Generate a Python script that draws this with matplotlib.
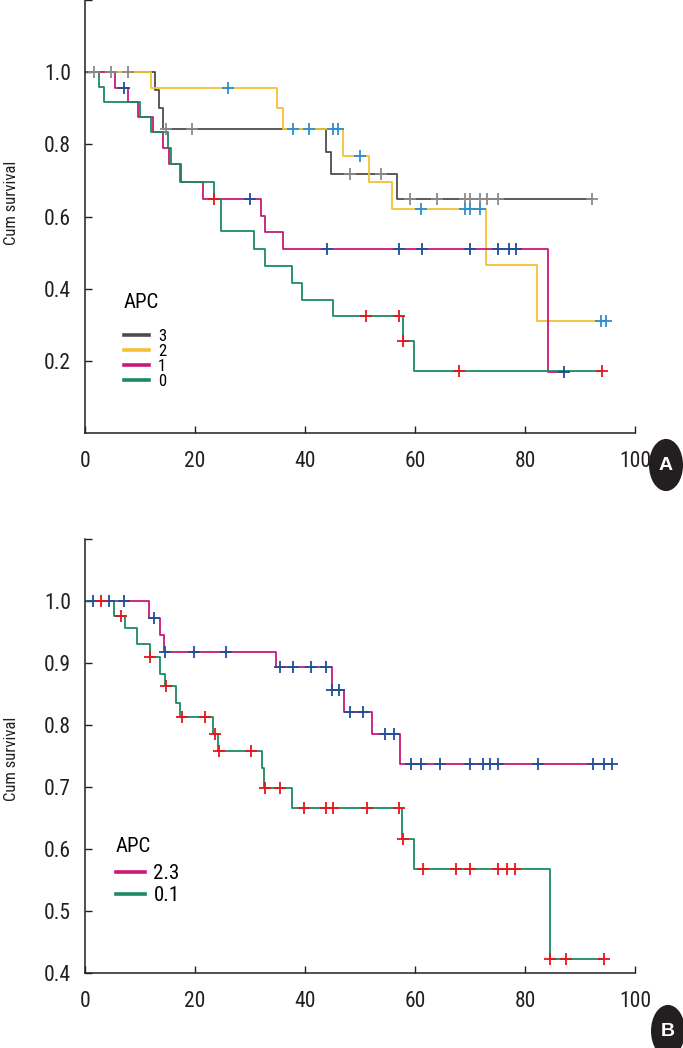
import numpy as np
import matplotlib
matplotlib.use("Agg")
import matplotlib.pyplot as plt
from matplotlib.patches import Circle
from matplotlib import font_manager

# pick a condensed sans face if one is installed
_names = {f.name for f in font_manager.fontManager.ttflist}
_cond = [f for f in font_manager.fontManager.ttflist
         if ('Narrow' in f.fname or 'Condensed' in f.fname or 'Cond' in f.name
             or str(f.stretch) in ('condensed', 'semi-condensed', '75', '87'))]
FAMILY = ['Liberation Sans', 'DejaVu Sans']
STRETCH = 'normal'
for pref in ['Liberation Sans Narrow', 'Roboto Condensed', 'Open Sans Condensed']:
    if pref in _names:
        FAMILY = [pref, 'Liberation Sans', 'DejaVu Sans']
        break
else:
    for f in _cond:
        if 'Liberation' in f.fname or 'DejaVuSans' in f.fname or 'Roboto' in f.fname:
            FAMILY = [f.name, 'DejaVu Sans']
            STRETCH = 'condensed'
            break
plt.rcParams['font.family'] = FAMILY
plt.rcParams['font.stretch'] = STRETCH

# ---------------- Panel A data (APC 3, 2, 1, 0) ----------------
a3_times = [0, 12.7, 13.5, 14.2, 43.8, 44.8, 56.8]
a3_surv = [1.0, 0.95, 0.90, 0.842, 0.78, 0.718, 0.648]
a3_end = 92.2
a3_cens = [1.7, 4.7, 7.8, 14.7, 19.5, 48.1, 53.9, 59.0, 64.0, 69.1, 70.0, 71.8, 73.0, 75.0, 92.2]

a2_times = [0, 12.0, 34.9, 36.0, 46.9, 51.6, 55.8, 72.9, 82.1]
a2_surv = [1.0, 0.955, 0.90, 0.842, 0.768, 0.697, 0.62, 0.465, 0.312]
a2_end = 94.8
a2_cens = [26.0, 37.9, 40.8, 45.0, 46.0, 50.0, 61.1, 69.1, 70.0, 71.8, 93.9, 94.8]

a1_times = [0, 5.45, 7.8, 9.7, 12.3, 14.2, 15.2, 17.4, 21.5, 32.0, 32.7, 36.0, 84.1]
a1_surv = [1.0, 0.955, 0.918, 0.877, 0.835, 0.79, 0.745, 0.697, 0.648, 0.603, 0.558, 0.51, 0.171]
a1_end = 87.0
a1_cens = [7.0, 30.0, 44.0, 57.0, 61.3, 70.0, 75.0, 77.0, 78.4, 87.0]

a0_times = [0, 2.6, 3.5, 10.0, 12.0, 15.0, 15.6, 17.3, 23.5, 24.8, 30.7, 32.7, 37.6, 39.5, 45.0, 57.9, 59.8]
a0_surv = [1.0, 0.958, 0.918, 0.875, 0.835, 0.79, 0.745, 0.697, 0.648, 0.56, 0.51, 0.463, 0.415, 0.37, 0.326, 0.257, 0.173]
a0_end = 94.0
a0_cens = [23.5, 51.0, 57.0, 57.9, 68.0, 94.0]

# ---------------- Panel B data (APC 2.3, 0.1) ----------------
b23_times = [0, 11.7, 13.6, 14.4, 34.7, 44.85, 47.1, 52.2, 57.2]
b23_surv = [1.0, 0.973, 0.945, 0.918, 0.894, 0.857, 0.82, 0.785, 0.737]
b23_end = 95.9
b23_cens = [1.4, 4.4, 7.0, 12.5, 14.5, 19.8, 25.6, 35.5, 37.8, 41.1, 43.9, 44.9, 46.1,
            48.2, 50.5, 54.5, 56.2, 59.3, 61.1, 64.5, 70.0, 72.3, 73.6, 75.1, 82.4,
            92.4, 94.4, 95.9]

b01_times = [0, 5.3, 7.3, 9.4, 11.8, 13.6, 14.5, 16.5, 17.3, 23.3, 24.2, 32.2, 32.5, 37.7, 57.6, 59.8, 84.5]
b01_surv = [1.0, 0.976, 0.956, 0.931, 0.909, 0.882, 0.863, 0.836, 0.812, 0.785, 0.758, 0.73, 0.698, 0.666, 0.615, 0.567, 0.4216]
b01_end = 94.4
b01_cens = [2.9, 6.5, 11.8, 14.7, 17.6, 21.8, 23.6, 24.4, 30.2, 32.7, 35.5, 39.9, 43.8,
            45.0, 51.2, 57.1, 57.8, 61.5, 67.5, 70.0, 75.0, 76.8, 78.2, 84.5, 87.4, 94.4]

GRAY = '#4d4d4d'
YELLOW = '#f6c033'
MAGENTA = '#c9187a'
GREEN = '#1b8a5e'
C_GRAY = '#8a8a8a'
C_LBLUE = '#2a8fd0'
C_NAVY = '#1f4f9a'
C_RED = '#e8141e'
INK = '#231f20'

W, H = 683, 1048
fig = plt.figure(figsize=(W / 100, H / 100), dpi=100)


def px_axes(left, top, right, bottom):
    return fig.add_axes([left / W, 1 - bottom / H, (right - left) / W, (bottom - top) / H])


axA = px_axes(85, 0, 635, 433.3)
axB = px_axes(85, 539, 635, 972.7)


def km(ax, times, surv, end, cens, color, ccolor, label):
    t = list(times) + [end]
    s = list(surv) + [surv[-1]]
    ax.step(t, s, where='post', color=color, lw=1.3, label=label, zorder=2)
    idx = np.searchsorted(np.asarray(times), np.asarray(cens), side='right') - 1
    cy = np.asarray(surv)[idx]
    ax.plot(cens, cy, linestyle='none', marker='+', color=ccolor, ms=8, mew=1.3, zorder=3)


km(axA, a3_times, a3_surv, a3_end, a3_cens, GRAY, C_GRAY, '3')
km(axA, a2_times, a2_surv, a2_end, a2_cens, YELLOW, C_LBLUE, '2')
km(axA, a1_times, a1_surv, a1_end, a1_cens, MAGENTA, C_NAVY, '1')
km(axA, a0_times, a0_surv, a0_end, a0_cens, GREEN, C_RED, '0')

km(axB, b23_times, b23_surv, b23_end, b23_cens, MAGENTA, C_NAVY, '2.3')
km(axB, b01_times, b01_surv, b01_end, b01_cens, GREEN, C_RED, '0.1')

xticks = [0, 20, 40, 60, 80, 100]
yticksA = [0.2, 0.4, 0.6, 0.8, 1.0, 1.2]
yticksB = [0.4, 0.5, 0.6, 0.7, 0.8, 0.9, 1.0, 1.1]

for ax, ylim, yt in [(axA, (0, 1.2), yticksA), (axB, (0.4, 1.1), yticksB)]:
    ax.set_xlim(0, 100)
    ax.set_ylim(*ylim)
    ax.set_xticks(xticks)
    ax.set_xticklabels([str(v) for v in xticks])
    ax.set_yticks(yt)
    ax.set_yticklabels(['%.1f' % v if v < ylim[1] - 1e-9 else '' for v in yt])
    for s in ['top', 'right']:
        ax.spines[s].set_visible(False)
    for s in ['left', 'bottom']:
        ax.spines[s].set_color(INK)
        ax.spines[s].set_linewidth(1.1)
    ax.tick_params(direction='in', length=5, width=1.0, color=INK, labelsize=15.5,
                   labelcolor=INK)
    ax.tick_params(axis='y', pad=10)
    ax.tick_params(axis='x', pad=13)
    ax.patch.set_alpha(0)

# y axis titles
fig.text(12 / W, 1 - 203 / H, 'Cum survival', rotation=90, ha='center', va='center',
         fontsize=12, color=INK)
fig.text(12 / W, 1 - 759 / H, 'Cum survival', rotation=90, ha='center', va='center',
         fontsize=12, color=INK)

legA = axA.legend(title='APC', loc='upper left', bbox_to_anchor=(39 / 550, 1 - 293 / 433.3),
                  frameon=False, fontsize=12, title_fontsize=15, handlelength=1.5,
                  handletextpad=0.55, labelspacing=0.0, borderpad=0, borderaxespad=0,
                  alignment='left')
legB = axB.legend(title='APC', loc='upper left', bbox_to_anchor=(31 / 550, 1 - (837 - 539) / 433.7),
                  frameon=False, fontsize=15, title_fontsize=15, handlelength=1.4,
                  handletextpad=0.4, labelspacing=0.12, borderpad=0, borderaxespad=0,
                  alignment='left')
legA._legend_box.sep = 12
legB._legend_box.sep = 6
for leg in (legA, legB):
    for h in leg.legend_handles:
        h.set_linewidth(2.6)

# panel badges
for (cx, cy, letter) in [(666, 465, 'A'), (668, 1031, 'B')]:
    fig.patches.append(Circle((cx / W, 1 - cy / H), 17 / W, transform=fig.transFigure,
                              facecolor=INK, edgecolor='none'))
    fig.text(cx / W, 1 - cy / H, letter, color='white', fontsize=14, fontweight='bold',
             ha='center', va='center', family=['Liberation Sans', 'DejaVu Sans'],
             stretch='normal')

fig.savefig('out.png', dpi=100)
